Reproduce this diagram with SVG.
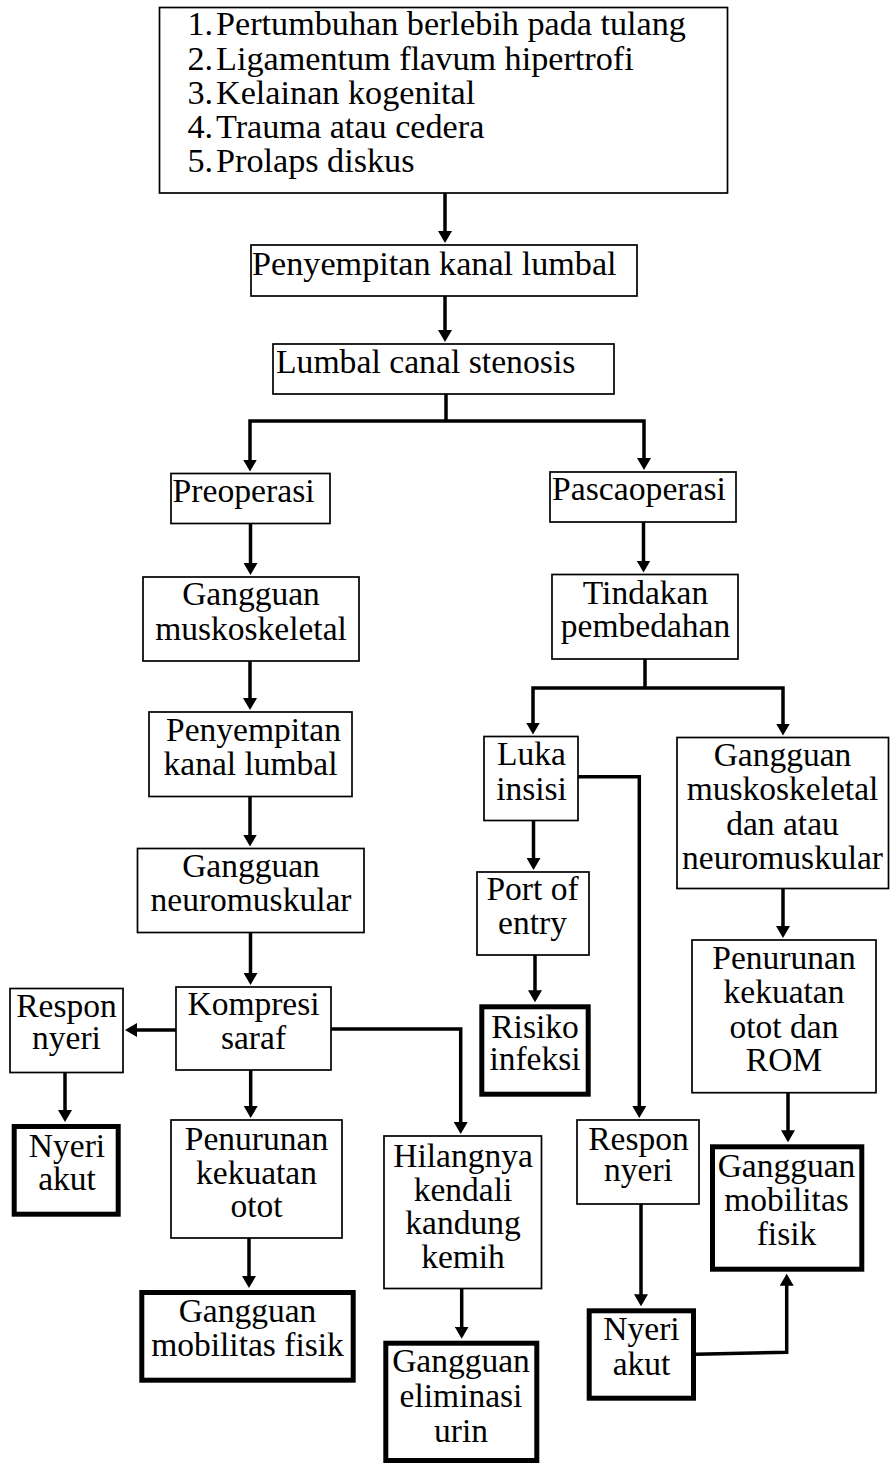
<svg xmlns="http://www.w3.org/2000/svg" width="890" height="1463" viewBox="0 0 890 1463">
<style>
.box{fill:#fff;stroke:#000;stroke-width:1.7}
.thick{stroke-width:5}
.t{font-family:"Liberation Serif","Times New Roman",serif;font-size:33.5px;fill:#000}
.big{font-size:34.2px}
.mid{font-size:33.7px}
.c{text-anchor:middle}
.conn{fill:none;stroke:#000;stroke-width:3.5;stroke-linejoin:miter}
.arr{marker-end:url(#ah)}
</style>
<defs>
<marker id="ah" markerUnits="userSpaceOnUse" markerWidth="12" markerHeight="14" viewBox="0 0 12 14" refX="8" refY="7" orient="auto">
<path d="M0,0 L12,7 L0,14 Z" fill="#000"/>
</marker>
</defs>
<rect width="890" height="1463" fill="#fff"/>

<g id="connectors">
<path class="conn arr" d="M445,193 V239"/>
<path class="conn arr" d="M445,296 V338"/>
<path class="conn" d="M446,394 V421"/>
<path class="conn arr" d="M446,421 H250 V467.5"/>
<path class="conn arr" d="M446,421 H644 V466"/>
<path class="conn arr" d="M250.5,523.5 V571"/>
<path class="conn arr" d="M643.5,522 V568.5"/>
<path class="conn arr" d="M250,661 V706"/>
<path class="conn" d="M645,659 V688"/>
<path class="conn arr" d="M645,688 H533 V730.5"/>
<path class="conn arr" d="M645,688 H783 V731.5"/>
<path class="conn arr" d="M250,796.5 V842.5"/>
<path class="conn arr" d="M533.5,820.5 V866"/>
<path class="conn arr" d="M578,776.7 H639.3 V1114"/>
<path class="conn arr" d="M783,888.5 V934"/>
<path class="conn arr" d="M250.5,932.5 V981"/>
<path class="conn arr" d="M535,955 V998.3"/>
<path class="conn arr" d="M176,1030 H129"/>
<path class="conn arr" d="M331,1029 H460.7 V1130"/>
<path class="conn arr" d="M65,1072.5 V1118"/>
<path class="conn arr" d="M250.7,1070 V1114"/>
<path class="conn arr" d="M788,1092.7 V1138.3"/>
<path class="conn arr" d="M641,1204 V1302.3"/>
<path class="conn arr" d="M249,1238 V1284"/>
<path class="conn arr" d="M461.7,1288.5 V1334.7"/>
<path class="conn arr" d="M696,1354.3 L786.7,1352.3 V1277.7"/>
</g>

<g id="n-causes">
<rect class="box" x="159.5" y="7.5" width="568" height="185.5"/>
<text class="t big" x="187.5" y="35">1.</text><text class="t big" x="216" y="35">Pertumbuhan berlebih pada tulang</text>
<text class="t big" x="187.5" y="70">2.</text><text class="t big" x="216" y="70">Ligamentum flavum hipertrofi</text>
<text class="t big" x="187.5" y="104">3.</text><text class="t big" x="216" y="104">Kelainan kogenital</text>
<text class="t big" x="187.5" y="138">4.</text><text class="t big" x="216" y="138">Trauma atau cedera</text>
<text class="t big" x="187.5" y="171.5">5.</text><text class="t big" x="216" y="171.5">Prolaps diskus</text>
</g>

<g id="n-penyempitan">
<rect class="box" x="251" y="245" width="386" height="51"/>
<text class="t big" x="252" y="275">Penyempitan kanal lumbal</text>
</g>

<g id="n-lcs">
<rect class="box" x="273" y="344" width="341" height="50"/>
<text class="t mid" x="276" y="373.3">Lumbal canal stenosis</text>
</g>

<g id="n-preoperasi">
<rect class="box" x="171" y="473.5" width="159" height="50"/>
<text class="t mid" x="172.5" y="501.5">Preoperasi</text>
</g>

<g id="n-pascaoperasi">
<rect class="box" x="550" y="472" width="186" height="50"/>
<text class="t mid" x="552" y="500">Pascaoperasi</text>
</g>

<g id="n-gmusk-l">
<rect class="box" x="143" y="577" width="216" height="84"/>
<text class="t c" x="251" y="605">Gangguan</text>
<text class="t c" x="251" y="639.5">muskoskeletal</text>
</g>

<g id="n-tindakan">
<rect class="box" x="552" y="574.5" width="186" height="84.5"/>
<text class="t c" x="645.5" y="603.5">Tindakan</text>
<text class="t c" x="645.5" y="637">pembedahan</text>
</g>

<g id="n-penyempitan-l">
<rect class="box" x="149" y="712" width="203" height="84.5"/>
<text class="t c" x="253.5" y="741">Penyempitan</text>
<text class="t c" x="250.5" y="775">kanal lumbal</text>
</g>

<g id="n-luka">
<rect class="box" x="484" y="736.5" width="94" height="84"/>
<text class="t c" x="531.5" y="765">Luka</text>
<text class="t c" x="531.5" y="799.5">insisi</text>
</g>

<g id="n-gmusk-r">
<rect class="box" x="677" y="737.5" width="211.5" height="151"/>
<text class="t c" x="782.5" y="765.5">Gangguan</text>
<text class="t c" x="782.5" y="800">muskoskeletal</text>
<text class="t c" x="782.5" y="834.5">dan atau</text>
<text class="t c" x="782.5" y="868.5">neuromuskular</text>
</g>

<g id="n-gneuro-l">
<rect class="box" x="137.5" y="848.5" width="226.5" height="84"/>
<text class="t c" x="251" y="877">Gangguan</text>
<text class="t c" x="251" y="910.5">neuromuskular</text>
</g>

<g id="n-port">
<rect class="box" x="477" y="872" width="112" height="83"/>
<text class="t c" x="532.5" y="900">Port of</text>
<text class="t c" x="532.5" y="934">entry</text>
</g>

<g id="n-penurunan-rom">
<rect class="box" x="692" y="940" width="184" height="152.7"/>
<text class="t c" x="784" y="968.5">Penurunan</text>
<text class="t c" x="784" y="1003">kekuatan</text>
<text class="t c" x="784" y="1037.5">otot dan</text>
<text class="t c" x="784" y="1071">ROM</text>
</g>

<g id="n-kompresi">
<rect class="box" x="176" y="987" width="155" height="83"/>
<text class="t c" x="253.5" y="1015">Kompresi</text>
<text class="t c" x="253.5" y="1049">saraf</text>
</g>

<g id="n-respon-l">
<rect class="box" x="10" y="988.5" width="113" height="84"/>
<text class="t c" x="66.5" y="1016.5">Respon</text>
<text class="t c" x="66.5" y="1049">nyeri</text>
</g>

<g id="n-risiko">
<rect class="box thick" x="481.8" y="1006.8" width="106.4" height="87.4"/>
<text class="t c" x="535" y="1037.5">Risiko</text>
<text class="t c" x="535" y="1069.5">infeksi</text>
</g>

<g id="n-nyeri-l">
<rect class="box thick" x="14.2" y="1126.5" width="104" height="87.7"/>
<text class="t c" x="67" y="1157">Nyeri</text>
<text class="t c" x="67" y="1190">akut</text>
</g>

<g id="n-penurunan-l">
<rect class="box" x="171" y="1120" width="171" height="118"/>
<text class="t c" x="256.5" y="1150">Penurunan</text>
<text class="t c" x="256.5" y="1183.5">kekuatan</text>
<text class="t c" x="256.5" y="1217">otot</text>
</g>

<g id="n-hilangnya">
<rect class="box" x="384" y="1136" width="157.5" height="152.5"/>
<text class="t c" x="463" y="1167">Hilangnya</text>
<text class="t c" x="463" y="1200.5">kendali</text>
<text class="t c" x="463" y="1234">kandung</text>
<text class="t c" x="463" y="1267.5">kemih</text>
</g>

<g id="n-respon-r">
<rect class="box" x="577" y="1120" width="122" height="84"/>
<text class="t c" x="638.5" y="1149.5">Respon</text>
<text class="t c" x="638.5" y="1181">nyeri</text>
</g>

<g id="n-mobilitas-r">
<rect class="box thick" x="712.5" y="1146.8" width="149.3" height="122.4"/>
<text class="t c" x="786.5" y="1177">Gangguan</text>
<text class="t c" x="786.5" y="1211">mobilitas</text>
<text class="t c" x="786.5" y="1245">fisik</text>
</g>

<g id="n-mobilitas-l">
<rect class="box thick" x="141.8" y="1292.5" width="211.4" height="87.7"/>
<text class="t c" x="247.5" y="1321.5">Gangguan</text>
<text class="t c" x="247.5" y="1356">mobilitas fisik</text>
</g>

<g id="n-eliminasi">
<rect class="box thick" x="385.8" y="1343.2" width="151" height="117.3"/>
<text class="t c" x="461" y="1372">Gangguan</text>
<text class="t c" x="461" y="1407">eliminasi</text>
<text class="t c" x="461" y="1442">urin</text>
</g>

<g id="n-nyeri-r">
<rect class="box thick" x="589.2" y="1310.8" width="104.3" height="87.4"/>
<text class="t c" x="641.5" y="1340">Nyeri</text>
<text class="t c" x="641.5" y="1375">akut</text>
</g>
</svg>
